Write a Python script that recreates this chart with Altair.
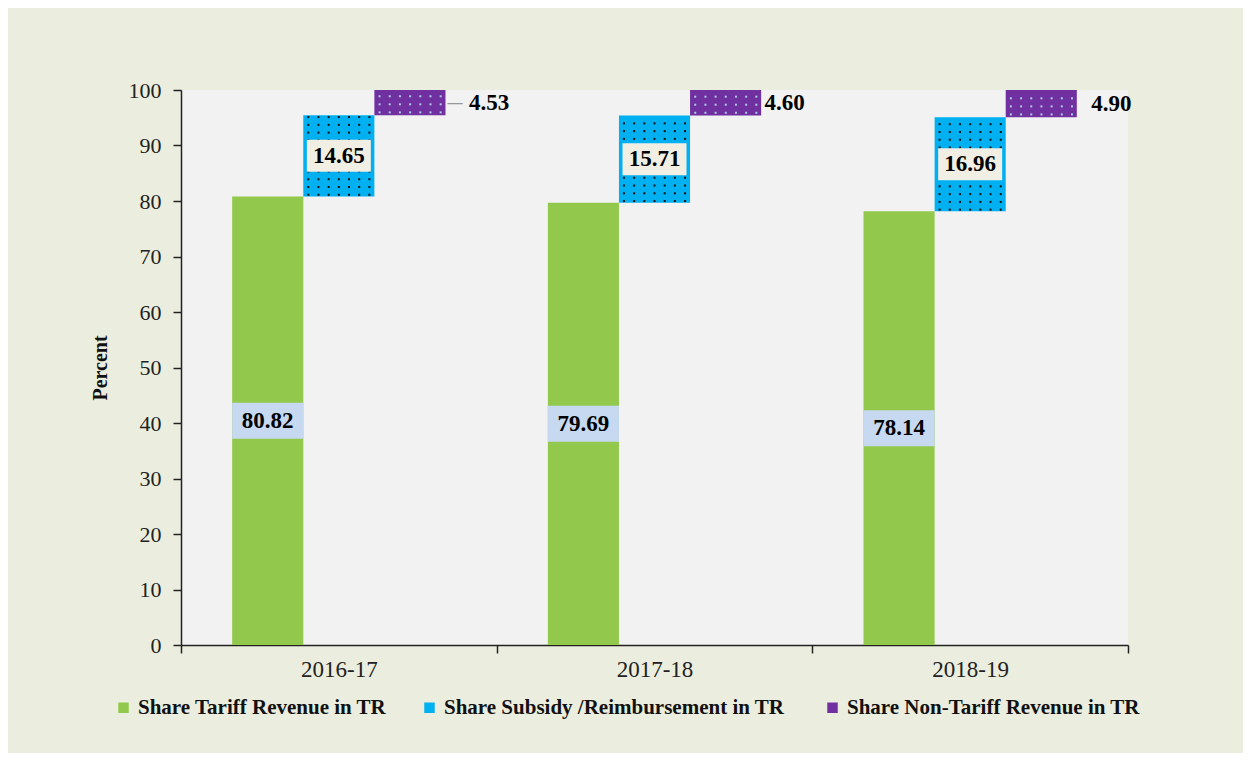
import altair as alt
import pandas as pd

years = ["2016-17", "2017-18", "2018-19"]
series = [
    "Share Tariff Revenue in TR",
    "Share Subsidy /Reimbursement  in TR",
    "Share Non-Tariff Revenue in TR",
]
tariff = [80.82, 79.69, 78.14]
subsidy = [14.65, 15.71, 16.96]
nontariff = [4.53, 4.60, 4.90]
colors = ["#92C84B", "#00B0F0", "#7030A0"]

FONT = "Liberation Serif"

rows = []
for i, yr in enumerate(years):
    vals = [tariff[i], subsidy[i], nontariff[i]]
    start = 0.0
    for j, s in enumerate(series):
        end = start + vals[j]
        rows.append({"year": yr, "series": s, "sidx": j, "start": start, "end": end,
                     "mid": (start + end) / 2, "value": vals[j]})
        start = end
df = pd.DataFrame(rows)

# dot texture (pattern fill) for the blue and purple bars
dots = []
for r in rows:
    if r["sidx"] == 0:
        continue
    step = 1.4 if r["sidx"] == 1 else 1.45
    first = 0.3 if r["sidx"] == 1 else 0.5
    yv = r["start"] + first
    while yv <= r["end"] - 0.2:
        for k in range(7):
            dots.append({"year": r["year"], "slot": 5 + 7 * r["sidx"] + k, "y": yv,
                         "kind": r["sidx"]})
        yv += step
dots_df = pd.DataFrame(dots)

x_enc = alt.X("year:N", sort=years, title=None,
              scale=alt.Scale(paddingInner=0, paddingOuter=0),
              axis=alt.Axis(labelFont=FONT, labelFontSize=23, labelColor="#222",
                            labelAngle=0, tickBand="extent", tickSize=8,
                            tickColor="#222", tickWidth=1.5, domainColor="#222",
                            domainWidth=1.5, labelPadding=5, grid=False))


def series_offset():
    return alt.XOffset("series:N", sort=series,
                       scale=alt.Scale(type="band", domain=series, paddingInner=0,
                                       paddingOuter=0.72))


y_scale = alt.Scale(domain=[0, 100])
y_axis = alt.Axis(values=list(range(0, 101, 10)), labelFont=FONT, labelFontSize=22,
                  labelColor="#222", tickSize=8, tickColor="#222", tickWidth=1.5,
                  domainColor="#222", domainWidth=1.5, labelPadding=12, grid=False,
                  titleFont=FONT, titleFontSize=20, titleFontWeight="bold",
                  titleColor="#111", titlePadding=18)

bars = alt.Chart(df).mark_bar().encode(
    x=x_enc,
    xOffset=series_offset(),
    y=alt.Y("start:Q", scale=y_scale, axis=y_axis, title="Percent"),
    y2="end:Q",
    color=alt.Color("series:N", sort=series,
                    scale=alt.Scale(domain=series, range=colors),
                    legend=alt.Legend(orient="none", legendX=-68, legendY=607,
                                      direction="horizontal", title=None,
                                      symbolType="square", symbolSize=110,
                                      symbolStrokeWidth=0, labelFont=FONT,
                                      labelFontWeight="bold", labelFontSize=21,
                                      labelColor="#111", labelLimit=1000,
                                      columnPadding=32, labelOffset=4, padding=0)),
)

dot_x_off = alt.XOffset("slot:O", scale=alt.Scale(type="band", domain=list(range(31)),
                                                   paddingInner=0, paddingOuter=0))
dots_blue = alt.Chart(dots_df).transform_filter("datum.kind == 1").mark_square(
    size=4, color="#111111", opacity=1).encode(
    x=alt.X("year:N", sort=years, title=None),
    xOffset=dot_x_off,
    y=alt.Y("y:Q", scale=y_scale, title="Percent"),
)
dots_purple = alt.Chart(dots_df).transform_filter("datum.kind == 2").mark_square(
    size=4, color="#A9CDEB", opacity=1).encode(
    x=alt.X("year:N", sort=years, title=None),
    xOffset=dot_x_off,
    y=alt.Y("y:Q", scale=y_scale, title="Percent"),
)

base = alt.Chart(df).encode(
    x=alt.X("year:N", sort=years, title=None),
    xOffset=series_offset(),
    y=alt.Y("mid:Q", scale=y_scale, title="Percent"),
)

green_box = base.transform_filter(alt.datum.sidx == 0).mark_bar(
    color="#C6D9F1", yOffset=-18, y2Offset=18).encode(y2="mid:Q")
blue_box = base.transform_filter(alt.datum.sidx == 1).mark_bar(
    color="#F1EFE4", width=64, yOffset=-16, y2Offset=16).encode(y2="mid:Q")

inner_text = base.transform_filter(alt.datum.sidx < 2).mark_text(
    font=FONT, fontWeight="bold", fontSize=23, color="#000").encode(
    text=alt.Text("value:Q", format=".2f"))

purple_dx = [59, 39, 50]
layers = [bars, dots_blue, dots_purple, green_box, blue_box, inner_text]
for yr, dxv in zip(years, purple_dx):
    layers.append(
        base.transform_filter((alt.datum.sidx == 2) & (alt.datum.year == yr)).mark_text(
            font=FONT, fontWeight="bold", fontSize=23, color="#000", align="left",
            dx=dxv).encode(text=alt.Text("value:Q", format=".2f"))
    )
leader = base.transform_filter((alt.datum.sidx == 2) & (alt.datum.year == years[0])).mark_text(
    font="DejaVu Sans", fontSize=17, color="#999999", align="center", dx=45, text="\u2014")
layers.append(leader)

chart = alt.layer(*layers).resolve_scale(xOffset="independent").properties(
    width=947, height=555,
    padding={"left": 173, "top": 82, "right": 115, "bottom": 108},
    autosize=alt.AutoSizeParams(type="none"),
).configure(background="#EBEEDF").configure_view(fill="#F2F2F2", strokeWidth=0)

chart.save("out.html", embed_options={"renderer": "svg", "actions": False})
